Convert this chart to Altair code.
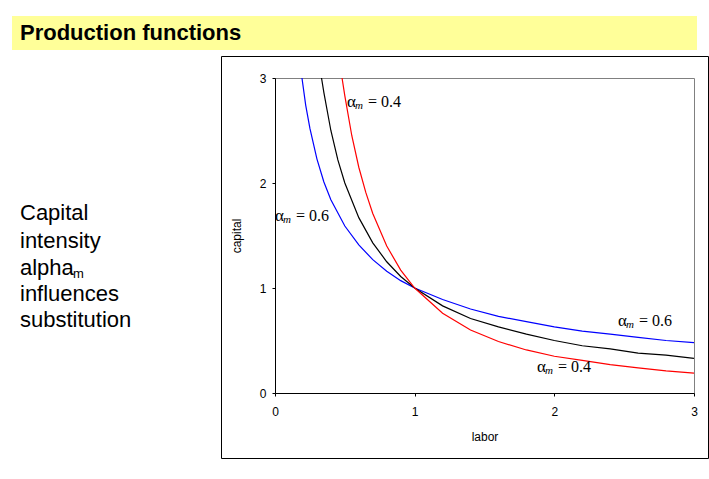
import altair as alt
import pandas as pd

# ---- data ----
labor_blue = [0.193, 0.22, 0.25, 0.3, 0.35, 0.4, 0.5, 0.6, 0.7, 0.8, 0.9, 1.0, 1.2, 1.4, 1.6, 1.8, 2.0, 2.2, 2.4, 2.6, 2.8, 3.0]
capital_blue = [3.0, 2.74, 2.52, 2.23, 2.01, 1.84, 1.59, 1.41, 1.27, 1.16, 1.07, 1.0, 0.89, 0.80, 0.73, 0.68, 0.63, 0.59, 0.56, 0.53, 0.50, 0.48]

labor_black = [0.333, 0.35, 0.4, 0.45, 0.5, 0.6, 0.7, 0.8, 0.9, 1.0, 1.2, 1.4, 1.6, 1.8, 2.0, 2.2, 2.4, 2.6, 2.8, 3.0]
capital_black = [3.0, 2.86, 2.5, 2.22, 2.0, 1.67, 1.43, 1.25, 1.11, 1.0, 0.83, 0.71, 0.63, 0.56, 0.50, 0.45, 0.42, 0.38, 0.36, 0.33]

labor_red = [0.48, 0.5, 0.55, 0.6, 0.65, 0.7, 0.8, 0.9, 1.0, 1.2, 1.4, 1.6, 1.8, 2.0, 2.2, 2.4, 2.6, 2.8, 3.0]
capital_red = [3.0, 2.83, 2.45, 2.15, 1.91, 1.71, 1.40, 1.17, 1.0, 0.76, 0.60, 0.49, 0.41, 0.35, 0.31, 0.27, 0.24, 0.21, 0.19]

label_L = [0.515, 0.0, 2.455, 1.875]
label_K = [2.77, 1.69, 0.69, 0.25]
label_val = ["=\u00a00.4", "=\u00a00.6", "=\u00a00.6", "=\u00a00.4"]

title_text = "Production functions"
side_lines = ["Capital", "intensity", "alpha", "influences", "substitution"]
side_y = [213, 241, 268, 294, 320]

rows = []
for name, Ls, Ks in [("blue", labor_blue, capital_blue), ("black", labor_black, capital_black), ("red", labor_red, capital_red)]:
    for i, (l, k) in enumerate(zip(Ls, Ks)):
        rows.append({"series": name, "labor": l, "capital": k, "order": i})
df = pd.DataFrame(rows)
lab = pd.DataFrame({"labor": label_L, "capital": label_K, "val": label_val})

PL, PT = 275, 78  # plot origin in page pixels

xs = alt.X("labor:Q", scale=alt.Scale(domain=[0, 3], nice=False),
           axis=alt.Axis(values=[0, 1, 2, 3], format="d", title="labor", grid=False, labelFlush=False,
                         tickSize=3, labelPadding=10, titlePadding=14, domainColor="black", tickColor="black"))
ys = alt.Y("capital:Q", scale=alt.Scale(domain=[0, 3], nice=False),
           axis=alt.Axis(values=[0, 1, 2, 3], format="d", title="capital", grid=False, labelFlush=False,
                         tickSize=3, labelPadding=6, titlePadding=16, domainColor="black", tickColor="black"))

lines = alt.Chart(df).mark_line(strokeWidth=1.2, clip=True).encode(
    x=xs, y=ys, detail="series:N", order="order:Q",
    color=alt.Color("series:N", scale=alt.Scale(domain=["blue", "black", "red"], range=["#0000FF", "#000000", "#FF0000"]), legend=None),
)

serif = "Liberation Serif"
t_alpha = alt.Chart(lab).mark_text(font=serif, fontSize=17, align="left", baseline="middle", color="black").encode(
    x="labor:Q", y="capital:Q", text=alt.value("α"))
t_m = alt.Chart(lab).mark_text(font=serif, fontSize=11, fontStyle="italic", align="left", baseline="middle", dx=8, dy=4, color="black").encode(
    x="labor:Q", y="capital:Q", text=alt.value("m"))
t_val = alt.Chart(lab).mark_text(font=serif, fontSize=16, align="left", baseline="middle", dx=21, color="black").encode(
    x="labor:Q", y="capital:Q", text="val:N")

one = pd.DataFrame({"a": [0]})
yellow = alt.Chart(one).mark_rect(color="#FFFF99").encode(
    x=alt.value(12 - PL), x2=alt.value(697 - PL), y=alt.value(16 - PT), y2=alt.value(50 - PT))
title = alt.Chart(one).mark_text(font="Liberation Sans", fontSize=22, fontWeight="bold", align="left", baseline="middle", color="black").encode(
    x=alt.value(20 - PL), y=alt.value(33 - PT), text=alt.value(title_text))
box = alt.Chart(one).mark_rect(fill=None, stroke="black", strokeWidth=1).encode(
    x=alt.value(221.5 - PL), x2=alt.value(708.5 - PL), y=alt.value(56.5 - PT), y2=alt.value(458.5 - PT))

side_df = pd.DataFrame({"t": side_lines, "py": [v - PT for v in side_y]})
side = alt.Chart(side_df).mark_text(font="Liberation Sans", fontSize=22, align="left", baseline="middle", color="black").encode(
    x=alt.value(20 - PL), y=alt.Y("py:Q", scale=None), text="t:N")
sub_m = alt.Chart(one).mark_text(font="Liberation Sans", fontSize=13, align="left", baseline="middle", color="black").encode(
    x=alt.value(73 - PL), y=alt.value(274 - PT), text=alt.value("m"))

chart = alt.layer(yellow, title, box, side, sub_m, lines, t_alpha, t_m, t_val).properties(
    width=419, height=315,
    padding={"left": PL, "top": PT, "right": 15, "bottom": 86},
    autosize=alt.AutoSizeParams(type="none"),
    background="white",
).configure_view(stroke="#808080", strokeWidth=1).configure_axis(
    labelFont="Liberation Sans", titleFont="Liberation Sans", labelFontSize=12, titleFontSize=12,
    titleFontWeight="normal", labelColor="black", titleColor="black"
)

chart.save("out.html", embed_options={"renderer": "svg", "actions": False})
